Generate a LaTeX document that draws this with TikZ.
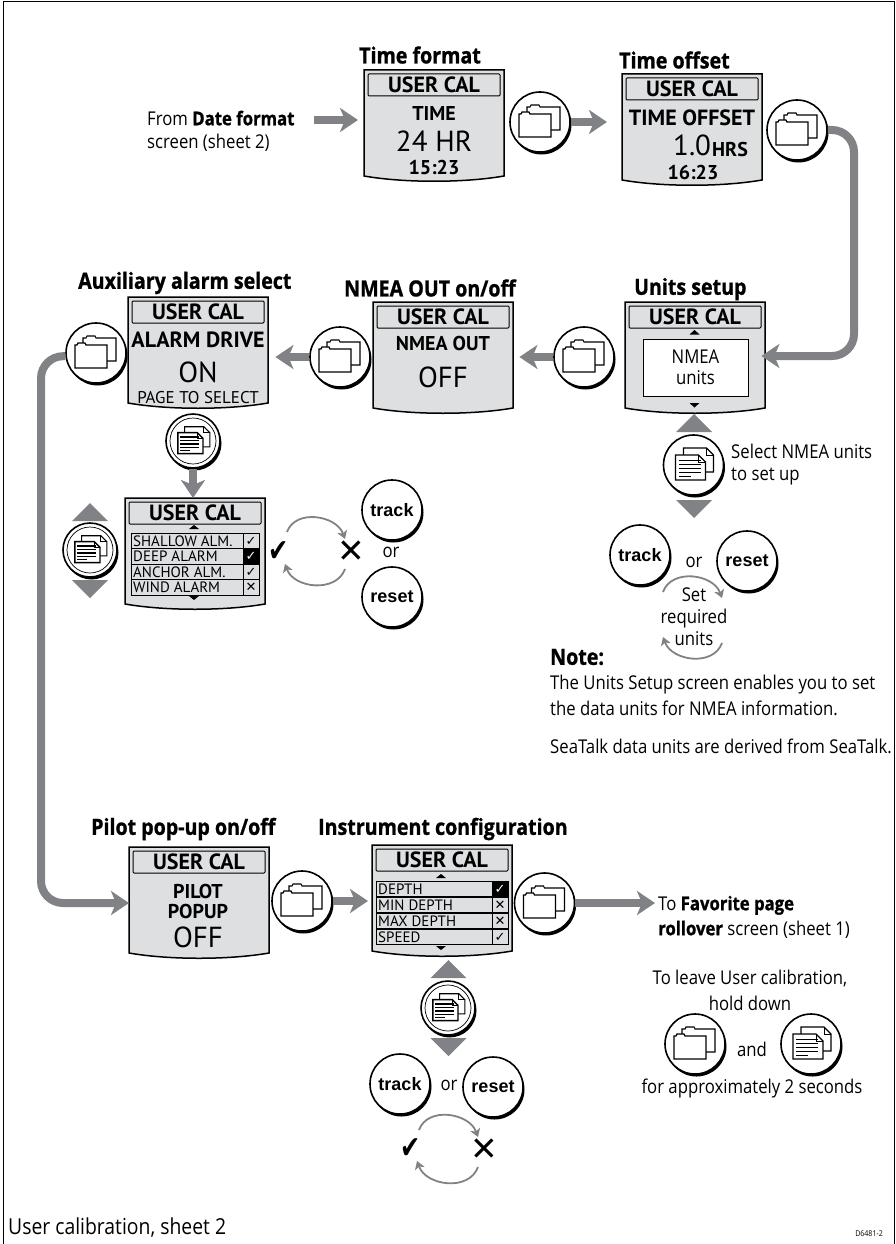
\documentclass[tikz,border=0pt]{standalone}
\usepackage{fontspec}
\setmainfont[FakeStretch=.88, BoldFeatures={FakeBold=1}]{Open Sans}
\newfontfamily\lcdfont{PT Sans}
\newfontfamily\keyfont{Liberation Sans}
\newfontfamily\markfont{DejaVu Sans}
\usetikzlibrary{arrows.meta, shadows}
\definecolor{lcdgray}{HTML}{DEDFE1}
\definecolor{flowgray}{HTML}{808285}
\tikzset{
    flowline/.style={draw=flowgray, line width=8, -{Stealth[length=18, width=24, inset=5]}},
    turnline/.style={draw=flowgray, line width=1.8, -{Stealth[length=8, width=10, inset=2]}},
    keybtn/.style={circle, draw=black, line width=1.6, fill=white, minimum size=60, inner sep=0,
        general shadow={fill=black, shadow xshift=1.5pt, shadow yshift=-2.5pt}},
    screentitle/.style={anchor=west, inner sep=0, font=\fontsize{22.3}{24}\selectfont\bfseries},
    bodytext/.style={inner sep=0, align=center, font=\fontsize{19}{25}\selectfont},
    keytext/.style={font=\keyfont\fontsize{18}{20}\selectfont\bfseries, inner sep=0},
    lcdtext/.style={inner sep=0, align=center, font=\lcdfont\bfseries\fontsize{20}{20}\selectfont},
    lcdwide/.style={inner sep=0, font=\lcdfont\bfseries\fontsize{22}{22}\selectfont},
    lcdbig/.style={inner sep=0, font=\lcdfont\fontsize{29}{29}\selectfont},
    rowtext/.style={anchor=west, inner sep=0, font=\lcdfont\fontsize{15}{15}\selectfont},
    bigmark/.style={inner sep=0, font=\markfont\fontsize{30}{30}\selectfont},
    upmark/.style={fill=flowgray},
    docline/.style={line width=1.6}
}
%the screen body with its USER CAL bar, #2 is the left edge and #3 the top
\newcommand{\lcdscreen}[3]{
    \begin{scope}[shift={(#2,#3)}]
    \filldraw[fill=lcdgray, line width=1.5] (0,0) -- (140,0) -- (140,106) .. controls (100,113) and (40,113) .. (0,106) -- cycle;
    \node[minimum width=140, minimum height=108, inner sep=0, anchor=north west] (#1) at (0,0) {};
    \node[draw, line width=1, rounded corners=1, minimum width=132, minimum height=22, inner sep=0,
        font=\lcdfont\bfseries\fontsize{22}{22}\selectfont] (#1bar) at (70,15) {USER CAL};
    \end{scope}
}
\newcommand{\foldericon}{
    \draw[line width=1.1, fill=white] (-13,8) -- (-13,-15) -- (-10,-15) -- (-9,-17) -- (-1,-17) -- (0,-15) -- (20,-15) -- (20,8) -- cycle;
    \draw[line width=1.3, fill=white] (-21,15) -- (-21,-8) -- (-19,-8) -- (-18,-10) -- (-11,-10) -- (-10,-8) -- (11,-8) -- (11,15) -- cycle;
}
\newcommand{\docicon}{
    \draw[line width=1.1, fill=white] (-10,7) -- (-10,-17) -- (13,-17) -- (20,-10) -- (20,7) -- cycle;
    \draw[line width=1.3, fill=white] (-18,15) -- (-18,-10) -- (5,-10) -- (12,-3) -- (12,15) -- cycle;
    \draw[line width=.9] (5,-10) -- (5,-3) -- (12,-3) (13,-17) -- (13,-10) -- (20,-10);
    \draw[docline] (-15,-4.5) -- (7,-4.5) (-15,-.5) -- (7,-.5) (-15,3.5) -- (7,3.5) (-15,7.5) -- (7,7.5) (-15,11.5) -- (-3,11.5);
}
\newcommand{\folderkey}[3]{
    \node[keybtn] (#1) at (#2,#3) {};
    \begin{scope}[shift={(#1.center)}] \foldericon \end{scope}
}
\newcommand{\dockey}[3]{
    \node[keybtn] (#1) at (#2,#3) {};
    \begin{scope}[shift={(#1.center)}] \docicon \end{scope}
}
%the smaller page key has a second ring
\newcommand{\ringkey}[3]{
    \node[keybtn, minimum size=54] (#1) at (#2,#3) {};
    \draw[line width=.7] (#1.center) circle (23);
    \begin{scope}[shift={(#1.center)}, scale=.84] \docicon \end{scope}
}
%one row of a list screen: name, left, top, right end, cell left edge, text, mark
\newcommand{\lcdrow}[7]{
    \draw[line width=1] (#2,#3) rectangle (#4,#3+15.5) (#5,#3) -- (#5,#3+15.5);
    \node[rowtext] (#1) at (#2+2,#3+8) {#6};
    \node[inner sep=0, font=\markfont\fontsize{13}{13}\selectfont] (#1mark) at (#5/2+#4/2,#3+8) {#7};
}
\newcommand{\lcdrowon}[7]{
    \draw[line width=1] (#2,#3) rectangle (#4,#3+15.5) (#5,#3) -- (#5,#3+15.5);
    \fill (#5,#3) rectangle (#4,#3+15.5);
    \node[rowtext] (#1) at (#2+2,#3+8) {#6};
    \node[inner sep=0, text=white, font=\markfont\fontsize{13}{13}\selectfont] (#1mark) at (#5/2+#4/2,#3+8) {#7};
}
\newcommand{\updown}[4]{
    \fill[upmark] (#1-18,#2) -- (#1,#2-18) -- (#1+18,#2) -- cycle;
    \fill[upmark] (#3-18,#4) -- (#3,#4+18) -- (#3+18,#4) -- cycle;
}
\begin{document}
\begin{tikzpicture}[x=1pt, y=-1pt]
    \useasboundingbox (0,0) rectangle (896,1244);
    %the frame
    \draw[line width=1] (3,1244) -- (3,1.5) -- (894,1.5) -- (894,1244);
    %the screens
    \lcdscreen{timefmt}{364}{70}
    \lcdscreen{timeoff}{622}{74}
    \lcdscreen{units}{625}{302}
    \lcdscreen{nmeaout}{373}{302}
    \lcdscreen{auxalarm}{128}{297}
    \lcdscreen{alarmlist}{125}{498}
    \lcdscreen{pilot}{129}{847}
    \lcdscreen{instr}{372}{845}
    %titles
    \node[screentitle] (timefmttitle) at (359,55) {Time format};
    \node[screentitle] (timeofftitle) at (619,60) {Time offset};
    \node[screentitle] (unitstitle) at (634,289) {Units setup};
    \node[screentitle] (nmeatitle) at (344,288) {NMEA OUT on/off};
    \node[screentitle] (auxtitle) at (78,283) {Auxiliary alarm select};
    \node[screentitle] (pilottitle) at (91,829) {Pilot pop-up on/off};
    \node[screentitle] (instrtitle) at (318,829) {Instrument configuration};
    %screen contents
    \node[lcdtext] (timeword) at (434,114) {TIME};
    \node[lcdbig] (timehr) at (434,141) {24 HR};
    \node[lcdtext] (timeclock) at (434,167) {15:23};
    \node[lcdwide] (offword) at (692,118) {TIME OFFSET};
    \node[lcdbig, anchor=west] (offval) at (673,145) {1.0};
    \node[lcdtext, anchor=west] (offhrs) at (712,150) {HRS};
    \node[lcdtext] (offclock) at (693,172) {16:23};
    \node[inner sep=0, align=center, font=\fontsize{19}{21}\selectfont, fill=white, draw, line width=1, minimum width=105, minimum height=57] (unitsbox) at (695.5,367.5) {NMEA\\units};
    \fill (689.5,334.5) -- (694.5,330) -- (699.5,334.5) -- cycle (689.5,403) -- (694.5,407.5) -- (699.5,403) -- cycle;
    \node[lcdtext] (nmeaword) at (443,343) {NMEA OUT};
    \node[lcdbig] (nmeaoff) at (443,377) {OFF};
    \node[lcdwide] (alarmword) at (198,340) {ALARM DRIVE};
    \node[lcdbig] (alarmon) at (198,372) {ON};
    \node[inner sep=0, font=\lcdfont\fontsize{17}{17}\selectfont] (alarmpage) at (198,398) {PAGE TO SELECT};
    \node[lcdtext] (pilotword) at (198,901) {PILOT\\POPUP};
    \node[lcdbig] (pilotoff) at (198,937) {OFF};
    %the list screens
    \fill (189,529) -- (194,525) -- (199,529) -- cycle (189,596) -- (194,600) -- (199,596) -- cycle;
    \lcdrow{rowshallow}{131}{533}{259}{243}{SHALLOW ALM.}{✓}
    \lcdrowon{rowdeep}{131}{548.5}{259}{243}{DEEP ALARM}{✓}
    \lcdrow{rowanchor}{131}{564}{259}{243}{ANCHOR ALM.}{✓}
    \lcdrow{rowwind}{131}{579.5}{259}{243}{WIND ALARM}{✕}
    \fill (436,878) -- (441,874) -- (446,878) -- cycle (436,946) -- (441,950) -- (446,946) -- cycle;
    \lcdrowon{rowdepth}{376}{881}{508}{492}{DEPTH}{✓}
    \lcdrow{rowmin}{376}{897}{508}{492}{MIN DEPTH}{✕}
    \lcdrow{rowmax}{376}{913}{508}{492}{MAX DEPTH}{✕}
    \lcdrow{rowspeed}{376}{929}{508}{492}{SPEED}{✓}
    %the keys
    \folderkey{timefmtkey}{540}{122}
    \folderkey{timeoffkey}{797}{130}
    \folderkey{unitskey}{584}{357}
    \folderkey{nmeakey}{340}{357}
    \folderkey{auxkey}{96}{353}
    \folderkey{pilotkey}{302}{901}
    \folderkey{instrkey}{544.5}{903}
    \folderkey{leavefolder}{695}{1044}
    \dockey{leavedoc}{811}{1044}
    \dockey{unitsdoc}{693.5}{465}
    \ringkey{auxdoc}{193}{441}
    \ringkey{listdoc}{90}{550}
    \ringkey{instrdoc}{448}{1008}
    %up and down
    \updown{694}{432}{694}{500}
    \updown{90}{521}{90}{580}
    \updown{448.5}{978}{448.5}{1038}
    %track and reset
    \node[keybtn, keytext] (unitstrack) at (640,555) {track};
    \node[keybtn, keytext] (unitsreset) at (747,561) {reset};
    \node[keybtn, keytext] (alarmtrack) at (392,510) {track};
    \node[keybtn, keytext] (alarmreset) at (392,597) {reset};
    \node[keybtn, keytext] (instrtrack) at (400,1084) {track};
    \node[keybtn, keytext] (instrreset) at (493,1087) {reset};
    \node[bodytext] (unitsor) at (694,562) {or};
    \node[bodytext] (alarmor) at (391,552) {or};
    \node[bodytext] (instror) at (449,1085) {or};
    %ticks and crosses
    \node[bigmark] (alarmyes) at (279,552) {\scalebox{.8}[1.05]{✔}};
    \node[bigmark] (alarmno) at (351,552) {\scalebox{1.1}{✕}};
    \node[bigmark] (instryes) at (411,1149) {\scalebox{.8}[1.05]{✔}};
    \node[bigmark] (instrno) at (484,1150) {\scalebox{1.1}{✕}};
    \node[bodytext, font=\fontsize{19}{22}\selectfont] (unitsset) at (694,617) {Set\\required\\units};
    %the turn arrows
    \draw[turnline] ([shift={(8,-20)}]alarmyes.center) to[out=70, in=110, looseness=1.1] ([shift={(-6,-13)}]alarmno.center);
    \draw[turnline] ([shift={(-6,17)}]alarmno.center) to[out=-110, in=-70, looseness=1.1] ([shift={(6,12)}]alarmyes.center);
    \draw[turnline] ([shift={(8,-19)}]instryes.center) to[out=70, in=110, looseness=1.1] ([shift={(-6,-13)}]instrno.center);
    \draw[turnline] ([shift={(-6,17)}]instrno.center) to[out=-110, in=-70, looseness=1.1] ([shift={(6,12)}]instryes.center);
    \draw[turnline] ([shift={(-31,-25)}]unitsset.center) to[out=70, in=110, looseness=1.1] ([shift={(28,-19)}]unitsset.center);
    \draw[turnline] ([shift={(28,26)}]unitsset.center) to[out=-110, in=-70, looseness=1.1] ([shift={(-31,20)}]unitsset.center);
    %the long arrows
    \node[bodytext, anchor=west, align=left, font=\fontsize{19}{23}\selectfont] (fromdate) at (147,131) {From \textbf{Date format}\\screen (sheet 2)};
    \coordinate (fromend) at (314,120);
    \draw[flowline, shorten >=6] (fromend) -- (fromend -| timefmt.west);
    \draw[flowline, shorten >=15] (timefmtkey.east) -- (timefmtkey.east -| timeoff.west);
    \coordinate (offbend) at (854,356);
    \draw[flowline, rounded corners=22, shorten >=-4] (timeoffkey.east) -| (offbend) -- (offbend -| units.east);
    \draw[flowline, shorten >=6] (unitskey.west) -- (unitskey.west -| nmeaout.east);
    \draw[flowline, shorten >=7] (nmeakey.west) -- (nmeakey.west -| auxalarm.east);
    \coordinate (auxbend) at (41,903);
    \draw[flowline, rounded corners=22] (auxkey.186) -| (auxbend) -- (auxbend -| pilot.west);
    \draw[flowline, shorten >=4] (pilotkey.east) -- (pilotkey.east -| instr.west);
    \draw[flowline] (auxdoc.south) -- (auxdoc.south |- alarmlist.north);
    \coordinate (favoriteend) at (655,903);
    \draw[flowline] (instrkey.east) -- (favoriteend);
    %other text
    \node[bodytext, anchor=west, align=left, font=\fontsize{19}{22}\selectfont] (selecttext) at (731,465) {Select NMEA units\\to set up};
    \node[screentitle] (notetitle) at (550,657) {Note:};
    \node[bodytext, anchor=west, align=left, font=\fontsize{19}{26}\selectfont] (notetext) at (550,695) {The Units Setup screen enables you to set\\the data units for NMEA information.};
    \node[bodytext, anchor=west, align=left] (notetwo) at (550,746) {SeaTalk data units are derived from SeaTalk.};
    \node[bodytext, anchor=west, align=left] (favoritetext) at (658,917) {To \textbf{Favorite page}\\\textbf{rollover} screen (sheet 1)};
    \node[bodytext, font=\fontsize{19}{26}\selectfont] (leavetext) at (750,990) {To leave User calibration,\\hold down};
    \node[bodytext] (andtext) at (752,1049) {and};
    \node[bodytext] (secondstext) at (752,1088) {for approximately 2 seconds};
    \node[anchor=west, inner sep=0, font=\fontsize{22}{24}\selectfont] (sheettext) at (8,1228) {User calibration, sheet 2};
    \node[anchor=east, inner sep=0, font=\fontsize{8}{10}\selectfont] (reftext) at (883,1234) {D6481-2};
\end{tikzpicture}
\end{document}
